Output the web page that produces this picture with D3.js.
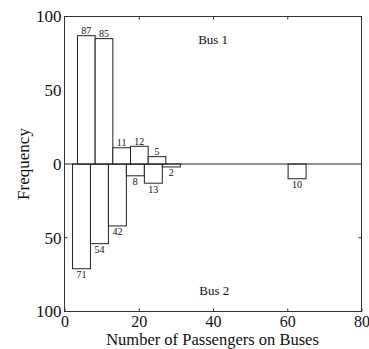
<!DOCTYPE html>
<html>
<head>
<meta charset="utf-8">
<script src="https://cdn.jsdelivr.net/npm/d3@7"></script>
<style>
  html, body { margin: 0; padding: 0; background: #fff; }
  svg { display: block; }
  text { font-family: "Liberation Serif", "Times New Roman", serif; fill: #111; }
</style>
</head>
<body>
<svg id="chart" width="369" height="349"></svg>
<script>
// Histogram bins (left/right edges) and counts for each bus
const bus1Lo = [3.5, 8.26, 13.02, 17.78, 22.54];
const bus1Hi = [8.26, 13.02, 17.78, 22.54, 27.3];
const bus1Counts = [87, 85, 11, 12, 5];

const bus2Lo = [2.15, 6.99, 11.83, 16.67, 21.51, 26.35, 60.23];
const bus2Hi = [6.99, 11.83, 16.67, 21.51, 26.35, 31.19, 65.07];
const bus2Counts = [71, 54, 42, 8, 13, 2, 10];

const xTicks = [0, 20, 40, 60, 80];
const yTicks = [-100, -50, 0, 50, 100];

const svg = d3.select("#chart");
const x = d3.scaleLinear().domain([0, 80]).range([64.5, 361.5]);
const y = d3.scaleLinear().domain([-100, 100]).range([311.5, 16.5]);

const ink = "#222";

// Bus 1 bars grow upward from zero
const bars1 = bus1Counts.map((v, i) => ({ lo: bus1Lo[i], hi: bus1Hi[i], v }));
// Bus 2 bars hang downward from zero
const bars2 = bus2Counts.map((v, i) => ({ lo: bus2Lo[i], hi: bus2Hi[i], v: -v }));

function drawBars(data) {
  svg.append("g").selectAll("rect").data(data).join("rect")
    .attr("x", d => x(d.lo))
    .attr("width", d => x(d.hi) - x(d.lo))
    .attr("y", d => y(Math.max(0, d.v)))
    .attr("height", d => Math.abs(y(d.v) - y(0)))
    .attr("fill", "#fff")
    .attr("stroke", ink)
    .attr("stroke-width", 1);
}
drawBars(bars2);
drawBars(bars1);

// Value labels
svg.append("g").selectAll("text").data(bars1).join("text")
  .attr("x", d => (x(d.lo) + x(d.hi)) / 2)
  .attr("y", d => y(d.v) - 1.5)
  .attr("text-anchor", "middle")
  .attr("font-size", 10)
  .text(d => d.v);

svg.append("g").selectAll("text").data(bars2).join("text")
  .attr("x", d => (x(d.lo) + x(d.hi)) / 2)
  .attr("y", d => y(d.v) + 9.5)
  .attr("text-anchor", "middle")
  .attr("font-size", 10)
  .text(d => Math.abs(d.v));

// Zero line
svg.append("line")
  .attr("x1", x(0)).attr("x2", x(80))
  .attr("y1", y(0)).attr("y2", y(0))
  .attr("stroke", ink).attr("stroke-width", 1);

// Frame
svg.append("rect")
  .attr("x", x(0)).attr("y", y(100))
  .attr("width", x(80) - x(0)).attr("height", y(-100) - y(100))
  .attr("fill", "none").attr("stroke", "#333").attr("stroke-width", 1);

// Bottom axis: inward ticks and labels
const xAxis = d3.axisBottom(x).tickValues(xTicks).tickSize(-3).tickPadding(4.5).tickFormat(d3.format("d"));
const gx = svg.append("g").attr("transform", `translate(0,${y(-100)})`).call(xAxis);
gx.select(".domain").remove();
gx.selectAll("line").attr("stroke", "#333");
gx.selectAll("text").attr("font-size", 16).attr("font-family", "Liberation Serif").attr("fill", "#111");

// Top edge ticks
const gxt = svg.append("g").attr("transform", `translate(0,${y(100)})`)
  .call(d3.axisTop(x).tickValues(xTicks.slice(1, -1)).tickSize(-3).tickFormat(""));
gxt.select(".domain").remove();
gxt.selectAll("line").attr("stroke", "#333");

// Left axis: labels show absolute frequency
const yAxis = d3.axisLeft(y).tickValues(yTicks).tickSize(0).tickPadding(3).tickFormat(d => Math.abs(d));
const gy = svg.append("g").attr("transform", `translate(${x(0)},0)`).call(yAxis);
gy.select(".domain").remove();
gy.selectAll("text").attr("font-size", 17).attr("font-family", "Liberation Serif").attr("fill", "#111");

// Inward ticks at -50 on both sides
svg.append("line").attr("x1", x(0)).attr("x2", x(0) + 3).attr("y1", y(-50)).attr("y2", y(-50)).attr("stroke", "#333");
svg.append("line").attr("x1", x(80)).attr("x2", x(80) - 3).attr("y1", y(-50)).attr("y2", y(-50)).attr("stroke", "#333");

// Series labels
svg.append("text").attr("x", x(36)).attr("y", y(81.5)).attr("font-size", 13).text("Bus 1");
svg.append("text").attr("x", x(36.3)).attr("y", y(-89)).attr("font-size", 13).text("Bus 2");

// Axis titles
svg.append("text")
  .attr("x", (x(0) + x(80)) / 2 - 0.5).attr("y", 345)
  .attr("text-anchor", "middle").attr("font-size", 16.5)
  .text("Number of Passengers on Buses");

svg.append("text")
  .attr("transform", `translate(29,${y(0)}) rotate(-90)`)
  .attr("text-anchor", "middle").attr("font-size", 17)
  .text("Frequency");
</script>
</body>
</html>
